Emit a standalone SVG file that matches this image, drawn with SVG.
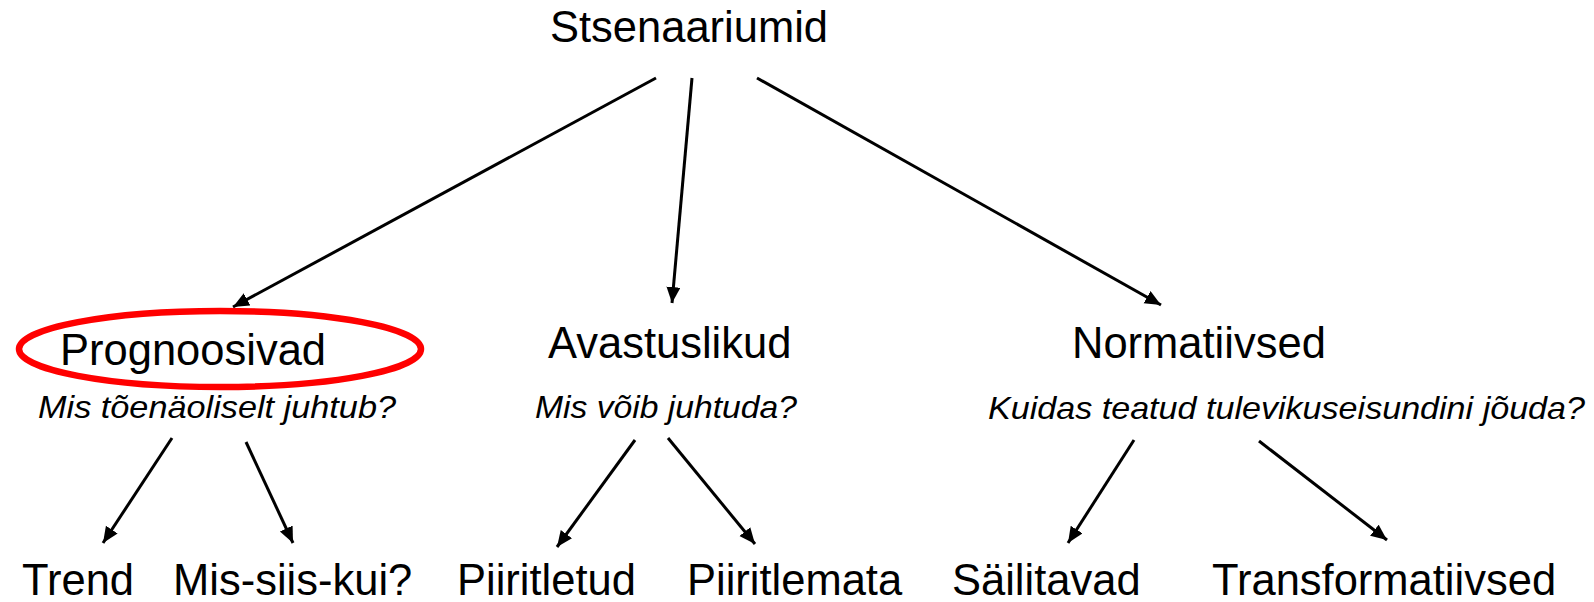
<svg xmlns="http://www.w3.org/2000/svg" width="1594" height="602" viewBox="0 0 1594 602">
<style>
.t{font-family:"Liberation Sans",Arial,sans-serif;font-size:43.5px;fill:#000}
.q{font-family:"Liberation Sans",Arial,sans-serif;font-size:32px;font-style:italic;fill:#000}
.c{stroke:#000;stroke-width:3;fill:none;marker-end:url(#ah)}
</style>
<defs>
<marker id="ah" markerUnits="userSpaceOnUse" markerWidth="18" markerHeight="16" refX="16" refY="7" orient="auto">
<path d="M0,0 L16,7 L0,14 z" fill="#000"/>
</marker>
</defs>
<rect width="1594" height="602" fill="#fff"/>
<g id="connectors">
<line class="c" x1="656" y1="78" x2="233" y2="307"/>
<line class="c" x1="692" y1="78" x2="672" y2="303"/>
<line class="c" x1="757" y1="78" x2="1161" y2="305"/>
<line class="c" x1="172" y1="438" x2="103" y2="543"/>
<line class="c" x1="246" y1="442" x2="293" y2="543"/>
<line class="c" x1="635" y1="440" x2="557" y2="547"/>
<line class="c" x1="668" y1="438" x2="755" y2="544"/>
<line class="c" x1="1134" y1="440" x2="1068" y2="543"/>
<line class="c" x1="1259" y1="441" x2="1387" y2="540"/>
</g>
<g id="root"><text class="t" x="550" y="42">Stsenaariumid</text></g>
<g id="prognoosivad">
<ellipse cx="220" cy="349" rx="201" ry="38" fill="none" stroke="#f00" stroke-width="6.5"/>
<text class="t" x="60" y="365">Prognoosivad</text>
<text class="q" x="38" y="418" textLength="358" lengthAdjust="spacingAndGlyphs">Mis tõenäoliselt juhtub?</text>
</g>
<g id="avastuslikud">
<text class="t" x="548" y="358">Avastuslikud</text>
<text class="q" x="535" y="418" textLength="262" lengthAdjust="spacingAndGlyphs">Mis võib juhtuda?</text>
</g>
<g id="normatiivsed">
<text class="t" x="1072" y="358">Normatiivsed</text>
<text class="q" x="988" y="419" textLength="597" lengthAdjust="spacingAndGlyphs">Kuidas teatud tulevikuseisundini jõuda?</text>
</g>
<g id="trend"><text class="t" x="22" y="595">Trend</text></g>
<g id="mis-siis-kui"><text class="t" x="173" y="595">Mis-siis-kui?</text></g>
<g id="piiritletud"><text class="t" x="457" y="595">Piiritletud</text></g>
<g id="piiritlemata"><text class="t" x="687" y="595">Piiritlemata</text></g>
<g id="sailitavad"><text class="t" x="952" y="595">Säilitavad</text></g>
<g id="transformatiivsed"><text class="t" x="1212" y="595">Transformatiivsed</text></g>
</svg>
